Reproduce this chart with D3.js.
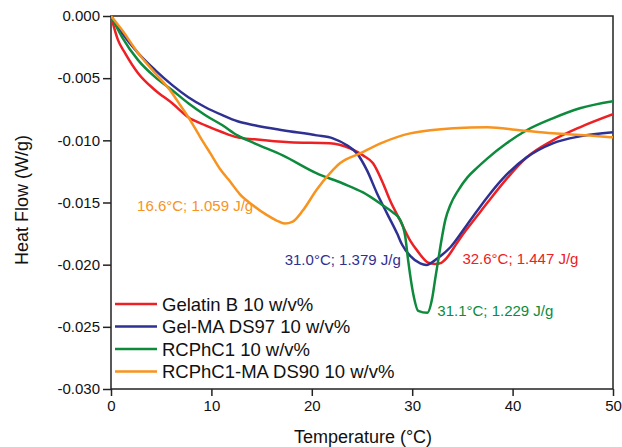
<!DOCTYPE html>
<html><head><meta charset="utf-8">
<script src="https://cdn.jsdelivr.net/npm/d3@7"></script>
<style>body{margin:0;background:#fff}svg{display:block}text{font-family:"Liberation Sans",Arial,sans-serif}</style>
</head><body><svg id="c" width="622" height="447"></svg>
<script>
const xTicks = [0, 10, 20, 30, 40, 50];
const yTicks = [0, -0.005, -0.010, -0.015, -0.020, -0.025, -0.030];
const seriesNames = ["Gelatin B 10 w/v%", "Gel-MA DS97 10 w/v%", "RCPhC1 10 w/v%", "RCPhC1-MA DS90 10 w/v%"];
const seriesColors = ["#ed2024", "#2e3192", "#0e8a3c", "#f7931e"];

const gelatinT = [0, 0.7, 1.4, 2.7, 4.4, 6.1, 7.7, 9.4, 11.1, 12.6, 14.3, 17.8, 21.8, 23.8, 25.1, 26.1, 27.1, 27.8, 28.8, 29.8, 30.5, 31.6, 32.3, 32.9, 33.4, 34.1, 34.8, 36.5, 37.6, 39.4, 41.4, 44.0, 46.7, 50];
const gelatinH = [0, -0.00194, -0.00298, -0.00460, -0.00597, -0.00702, -0.00815, -0.00879, -0.00935, -0.00976, -0.00992, -0.01016, -0.01024, -0.01065, -0.01121, -0.01185, -0.01347, -0.01484, -0.01645, -0.01806, -0.01887, -0.01984, -0.01995, -0.01985, -0.01950, -0.01870, -0.01785, -0.01605, -0.01490, -0.01310, -0.01137, -0.01000, -0.00895, -0.00790];

const gelmaT = [0, 1.1, 2.7, 4.4, 6.1, 7.7, 9.4, 11.1, 12.6, 14.3, 17.1, 20.5, 22.1, 23.5, 24.5, 25.5, 26.5, 27.5, 28.5, 29.0, 29.8, 30.8, 31.4, 32.5, 33.8, 35.5, 37.5, 39.0, 41.4, 44.0, 46.7, 50];
const gelmaH = [0, -0.00137, -0.00298, -0.00435, -0.00556, -0.00653, -0.00734, -0.00798, -0.00847, -0.00879, -0.00919, -0.00960, -0.00984, -0.01040, -0.01105, -0.01242, -0.01427, -0.01589, -0.01750, -0.01840, -0.01930, -0.01990, -0.02002, -0.01950, -0.01860, -0.01675, -0.01455, -0.01310, -0.01137, -0.01024, -0.00968, -0.00935];

const rcphcT = [0, 1.1, 2.7, 4.4, 6.1, 7.7, 9.4, 11.1, 12.6, 14.3, 17.1, 20.5, 23.1, 25.1, 27.1, 28.1, 28.8, 29.3, 29.6, 30.1, 30.6, 31.5, 32.0, 32.3, 32.6, 32.9, 33.3, 33.8, 34.6, 35.5, 36.5, 37.5, 39.4, 41.4, 44.0, 46.7, 50];
const rcphcH = [0, -0.00169, -0.00355, -0.00492, -0.00597, -0.00702, -0.00798, -0.00879, -0.00960, -0.01024, -0.01121, -0.01266, -0.01347, -0.01419, -0.01524, -0.01581, -0.01640, -0.01770, -0.01968, -0.02234, -0.02371, -0.02387, -0.02266, -0.02110, -0.01960, -0.01810, -0.01640, -0.01520, -0.01400, -0.01298, -0.01218, -0.01145, -0.01024, -0.00919, -0.00823, -0.00742, -0.00685];

const rcphcMaT = [0, 1.1, 2.7, 4.4, 6.1, 6.9, 7.9, 8.9, 9.9, 10.9, 11.9, 12.8, 14.1, 15.5, 16.5, 17.3, 18.1, 19.1, 20.5, 21.8, 22.8, 24.8, 27.1, 29.8, 31.8, 34.1, 37.5, 40.7, 44.0, 47.4, 50];
const rcphcMaH = [0, -0.00113, -0.00298, -0.00460, -0.00621, -0.00718, -0.00839, -0.00976, -0.01105, -0.01235, -0.01335, -0.01430, -0.01520, -0.01600, -0.01645, -0.01669, -0.01653, -0.01565, -0.01395, -0.01266, -0.01185, -0.01105, -0.01016, -0.00944, -0.00919, -0.00903, -0.00895, -0.00919, -0.00944, -0.00960, -0.00976];

const peakLabels = ["16.6°C; 1.059 J/g", "31.0°C; 1.379 J/g", "32.6°C; 1.447 J/g", "31.1°C; 1.229 J/g"];
const peakLabelColor = [3, 1, 0, 2];
const peakLabelT = [2.6, 17.3, 35.0, 32.5];
const peakLabelH = [-0.01565, -0.02005, -0.01992, -0.02411];

const series = [[gelatinT, gelatinH], [gelmaT, gelmaH], [rcphcT, rcphcH], [rcphcMaT, rcphcMaH]];

const svg = d3.select("#c");
const L = 111, R = 613, T = 16, B = 389;
const x = d3.scaleLinear().domain([0, 50]).range([L, R]);
const y = d3.scaleLinear().domain([-0.030, 0]).range([B, T]);
const axisColor = "#222";

svg.append("rect").attr("x", L).attr("y", T).attr("width", R - L).attr("height", B - T)
  .attr("fill", "none").attr("stroke", axisColor).attr("stroke-width", 1.5);

const gx = svg.append("g").attr("transform", `translate(0,${B})`);
gx.call(d3.axisBottom(x).tickValues(d3.range(5, 50, 10)).tickSize(4).tickFormat(""));
gx.call(d3.axisBottom(x).tickValues(xTicks).tickSize(7).tickPadding(4).tickFormat(d3.format("d")));
gx.select(".domain").remove();
gx.selectAll("line").attr("stroke", axisColor).attr("stroke-width", 1.5);
gx.selectAll("text").attr("font-size", 15).attr("fill", "#111").attr("font-family", "Liberation Sans, Arial, sans-serif");

const gy = svg.append("g").attr("transform", `translate(${L},0)`);
gy.call(d3.axisLeft(y).tickValues(d3.range(-0.0275, 0, 0.005)).tickSize(4).tickFormat(""));
gy.call(d3.axisLeft(y).tickValues(yTicks).tickSize(8).tickPadding(3).tickFormat(d3.format(".3f")));
gy.select(".domain").remove();
gy.selectAll("line").attr("stroke", axisColor).attr("stroke-width", 1.5);
gy.selectAll("text").attr("font-size", 15).attr("fill", "#111").attr("font-family", "Liberation Sans, Arial, sans-serif")
  .text(d => d3.format(".3f")(d).replace("−", "-"));

svg.append("clipPath").attr("id", "clp").append("rect")
  .attr("x", L).attr("y", T - 2).attr("width", R - L).attr("height", B - T + 2);
const line = d3.line().x(d => x(d[0])).y(d => y(d[1])).curve(d3.curveMonotoneX);
series.forEach((s, i) => {
  const pts = s[0].map((t, j) => [t, s[1][j]]);
  svg.append("path").attr("d", line(pts)).attr("fill", "none")
    .attr("stroke", seriesColors[i]).attr("stroke-width", 2.5).attr("clip-path", "url(#clp)");
});

peakLabels.forEach((lab, i) => {
  svg.append("text").attr("x", x(peakLabelT[i])).attr("y", y(peakLabelH[i]))
    .attr("font-size", 15).attr("fill", seriesColors[peakLabelColor[i]]).text(lab);
});

const lg = svg.append("g");
seriesNames.forEach((n, i) => {
  const yy = 304 + i * 22.5;
  lg.append("line").attr("x1", 115).attr("x2", 157).attr("y1", yy).attr("y2", yy)
    .attr("stroke", seriesColors[i]).attr("stroke-width", 2.5);
  lg.append("text").attr("x", 162).attr("y", yy + 6.5).attr("font-size", 18.5).attr("fill", "#111").text(n);
});

svg.append("text").attr("x", 363).attr("y", 443).attr("text-anchor", "middle")
  .attr("font-size", 18).attr("fill", "#111").text("Temperature (°C)");
svg.append("text").attr("transform", "translate(28,200) rotate(-90)").attr("text-anchor", "middle")
  .attr("font-size", 18).attr("fill", "#111").text("Heat Flow (W/g)");
</script></body></html>
